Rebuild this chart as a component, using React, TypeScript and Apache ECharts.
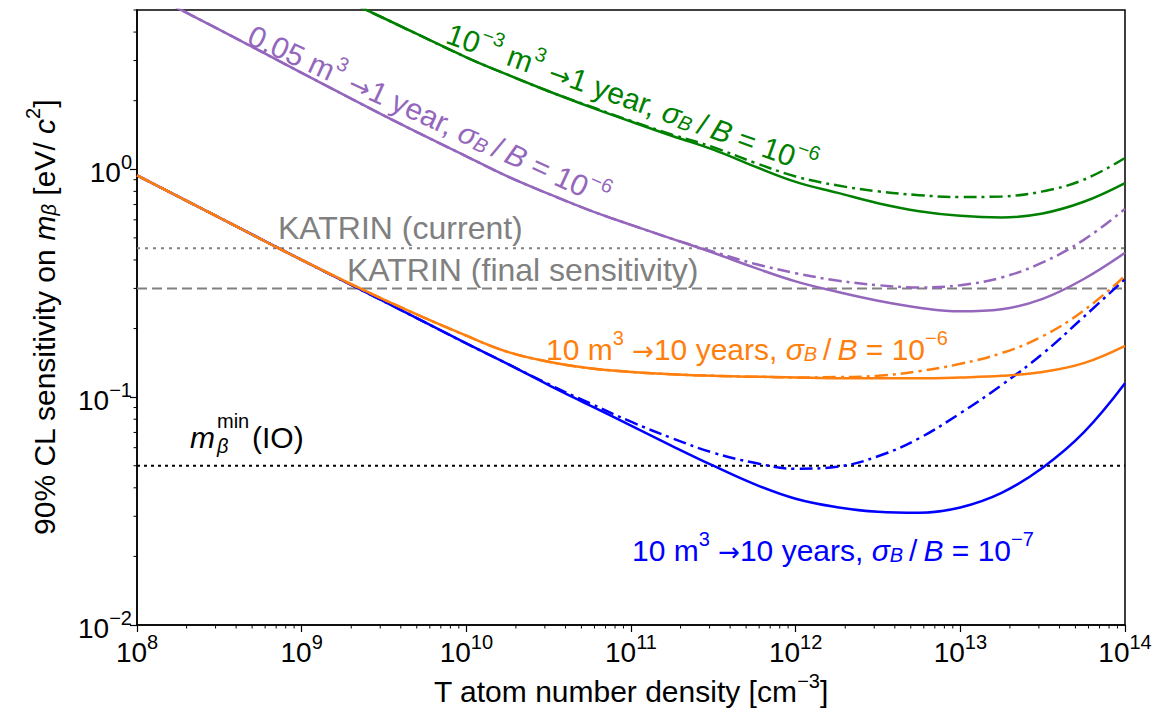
import React, { useEffect, useRef } from 'react';
import * as echarts from 'echarts';

const FONT = "'Liberation Sans', Arial, Helvetica, sans-serif";
const ARROW_FONT = "'DejaVu Sans', 'Liberation Sans', sans-serif";

// T atom number density sampling positions [cm^-3]
const density = [1e8, 3.16e8, 1e9, 3.16e9, 1e10, 1.78e10, 3.16e10, 5.62e10, 1e11, 1.78e11, 3.16e11, 5.62e11, 1e12, 1.78e12, 3.16e12, 5.62e12, 1e13, 1.78e13, 3.16e13, 5.62e13, 1e14];

// 90% CL sensitivity on m_beta [eV/c^2]
const blueSolid = [0.94, 0.614, 0.4, 0.263, 0.172, 0.14, 0.113, 0.092, 0.075, 0.061, 0.05, 0.0415, 0.0358, 0.0329, 0.0314, 0.0311, 0.0328, 0.038, 0.049, 0.07, 0.115];
const blueDashDot = [0.94, 0.614, 0.4, 0.263, 0.172, 0.14, 0.114, 0.094, 0.078, 0.066, 0.057, 0.0515, 0.0485, 0.0495, 0.055, 0.066, 0.085, 0.113, 0.155, 0.225, 0.33];
const orangeSolid = [0.94, 0.614, 0.4, 0.268, 0.186, 0.158, 0.143, 0.134, 0.129, 0.126, 0.124, 0.123, 0.122, 0.121, 0.121, 0.121, 0.122, 0.124, 0.129, 0.141, 0.168];
const orangeDashDot = [0.94, 0.614, 0.4, 0.268, 0.186, 0.158, 0.143, 0.134, 0.129, 0.126, 0.124, 0.123, 0.122, 0.1225, 0.124, 0.13, 0.14, 0.156, 0.185, 0.24, 0.34];
const purpleSolid = [6.3, 4.1, 2.65, 1.72, 1.14, 0.93, 0.78, 0.66, 0.57, 0.495, 0.43, 0.37, 0.322, 0.29, 0.265, 0.247, 0.238, 0.243, 0.27, 0.33, 0.43];
const purpleDashDot = [6.3, 4.1, 2.65, 1.72, 1.14, 0.93, 0.78, 0.66, 0.57, 0.495, 0.435, 0.385, 0.35, 0.325, 0.31, 0.303, 0.31, 0.335, 0.39, 0.49, 0.67];
const greenSolid = [null, null, 6.8, 4.6, 3.1, 2.6, 2.2, 1.88, 1.62, 1.4, 1.22, 1.03, 0.88, 0.79, 0.71, 0.655, 0.625, 0.615, 0.64, 0.72, 0.87];
const greenDashDot = [null, null, 6.8, 4.6, 3.1, 2.6, 2.2, 1.89, 1.63, 1.42, 1.25, 1.07, 0.93, 0.85, 0.8, 0.77, 0.755, 0.76, 0.8, 0.9, 1.12];

// reference levels
const katrinCurrent = 0.45;
const katrinFinal = 0.3;
const mBetaMinIO = 0.05;

const xRange = [1e8, 1e14];
const yRange = [0.01, 5];
const xMajorTicks = [1e8, 1e9, 1e10, 1e11, 1e12, 1e13, 1e14];
const yMajorTicks = [0.01, 0.1, 1];
const minorMantissas = [2, 3, 4, 5, 6, 7, 8, 9];

const BLUE = '#0000ff';
const ORANGE = '#ff7f0e';
const PURPLE = '#9467bd';
const GREEN = '#008000';
const GRAY = '#808080';
const DASHDOT = [13, 5, 3, 5];

function richFor(c: string, size = 30) {
  return {
    n: { fontSize: size, lineHeight: 36, verticalAlign: 'bottom', fill: c, color: c, fontFamily: FONT },
    it: { fontSize: size, lineHeight: 36, verticalAlign: 'bottom', fill: c, color: c, fontFamily: FONT, fontStyle: 'italic' },
    ar: { fontSize: 26, lineHeight: 36, verticalAlign: 'bottom', fill: c, color: c, fontFamily: ARROW_FONT },
    sup: { fontSize: 20, lineHeight: 20, verticalAlign: 'top', fill: c, color: c, fontFamily: FONT },
    sub: { fontSize: 20, lineHeight: 24, verticalAlign: 'bottom', fill: c, color: c, fontFamily: FONT, fontStyle: 'italic' },
  };
}

const sigmaPart = (exp: string) => `{it|σ}{sub|B}{n|\u2009/\u2009}{it|B}{n| = 10}{sup|${exp}}`;

function supExp(v: number) {
  const e = Math.round(Math.log10(v));
  return e < 0 ? '−' + -e : String(e);
}

const tickRich = {
  b: { fontSize: 28, lineHeight: 34, verticalAlign: 'bottom', color: '#000', fontFamily: FONT },
  s: { fontSize: 20, lineHeight: 18, verticalAlign: 'top', color: '#000', fontFamily: FONT },
};

export default function App() {
  const ref = useRef<HTMLDivElement>(null);
  useEffect(() => {
    const chart = echarts.init(ref.current!, null, { renderer: 'svg' });

    const minorData: number[][] = [];
    for (let i = 0; i < xMajorTicks.length - 1; i++) {
      for (const m of minorMantissas) minorData.push([m * xMajorTicks[i], yRange[0], 0]);
    }
    for (const d of yMajorTicks) {
      for (const m of minorMantissas) {
        const v = m * d;
        if (v <= yRange[1] + 1e-9) minorData.push([xRange[0], v, 1]);
      }
    }

    const curve = (data: (number | null)[], color: string, dashed: boolean, z: number) => ({
      type: 'line',
      data: density.map((x, i) => [x, data[i]]),
      showSymbol: false,
      symbol: 'none',
      smooth: 0.4,
      clip: true,
      silent: true,
      z,
      lineStyle: { color, width: 2.5, type: dashed ? DASHDOT : 'solid' },
    });
    const hline = (v: number, color: string, type: any, z: number) => ({
      type: 'line',
      data: [[xRange[0], v], [xRange[1], v]],
      showSymbol: false,
      symbol: 'none',
      silent: true,
      z,
      lineStyle: { color, width: 2, type },
    });

    const txt = (x: number, y: number, text: string, color: string, rot = 0, align = 'left', size = 30) => ({
      type: 'text',
      x,
      y,
      rotation: rot,
      silent: true,
      z: 50,
      style: {
        text,
        rich: richFor(color, size),
        fill: color,
        font: `${size}px ${FONT}`,
        align,
        textAlign: align,
        verticalAlign: 'middle',
        textVerticalAlign: 'middle',
      },
    });

    const option: any = {
      animation: false,
      backgroundColor: '#ffffff',
      textStyle: { fontFamily: FONT },
      grid: {
        left: 137,
        right: 49,
        top: 10,
        bottom: 83,
        show: true,
        borderColor: '#000',
        borderWidth: 1.5,
        backgroundColor: 'transparent',
        containLabel: false,
        outerBoundsMode: 'none',
      },
      xAxis: {
        type: 'log',
        logBase: 10,
        min: xRange[0],
        max: xRange[1],
        name: '{n|T atom number density [cm}{sup|−3}{n|]}',
        nameLocation: 'middle',
        nameGap: 44,
        nameTextStyle: { color: '#000', fontFamily: FONT, fontSize: 30, rich: richFor('#000') },
        axisLine: { show: true, lineStyle: { color: '#000', width: 1.5 } },
        axisTick: { show: true, inside: false, length: 7, customValues: xMajorTicks, lineStyle: { color: '#000', width: 1.2 } },
        axisLabel: {
          show: true,
          margin: 7,
          customValues: xMajorTicks,
          formatter: (v: number) => `{b|10}{s|${supExp(v)}}`,
          rich: tickRich,
        },
        splitLine: { show: false },
        minorTick: { show: false },
        minorSplitLine: { show: false },
      },
      yAxis: {
        type: 'log',
        logBase: 10,
        min: yRange[0],
        max: yRange[1],
        name: '{n|90% CL sensitivity on }{it|m}{sub|β}{n| [eV/ }{it|c}{sup|2}{n|]}',
        nameLocation: 'middle',
        nameRotate: 90,
        nameGap: 78,
        nameTextStyle: { color: '#000', fontFamily: FONT, fontSize: 30, rich: richFor('#000') },
        axisLine: { show: true, lineStyle: { color: '#000', width: 1.5 } },
        axisTick: { show: true, inside: false, length: 7, customValues: yMajorTicks, lineStyle: { color: '#000', width: 1.2 } },
        axisLabel: {
          show: true,
          margin: 5,
          customValues: yMajorTicks,
          formatter: (v: number) => `{b|10}{s|${supExp(v)}}`,
          rich: tickRich,
        },
        splitLine: { show: false },
        minorTick: { show: false },
        minorSplitLine: { show: false },
      },
      series: [
        hline(katrinCurrent, GRAY, [3, 5], 1),
        hline(katrinFinal, GRAY, [10, 5], 1),
        hline(mBetaMinIO, '#000', [3, 4], 1),
        curve(blueSolid, BLUE, false, 2),
        curve(blueDashDot, BLUE, true, 2),
        curve(orangeSolid, ORANGE, false, 3),
        curve(orangeDashDot, ORANGE, true, 3),
        curve(purpleSolid, PURPLE, false, 4),
        curve(purpleDashDot, PURPLE, true, 4),
        curve(greenSolid, GREEN, false, 5),
        curve(greenDashDot, GREEN, true, 5),
        {
          type: 'custom',
          coordinateSystem: 'cartesian2d',
          silent: true,
          clip: false,
          z: 20,
          data: minorData,
          renderItem: (params: any, api: any) => {
            const p = api.coord([api.value(0), api.value(1)]);
            const horiz = api.value(2) === 1;
            return {
              type: 'line',
              shape: horiz
                ? { x1: p[0] - 3.5, y1: p[1], x2: p[0], y2: p[1] }
                : { x1: p[0], y1: p[1], x2: p[0], y2: p[1] + 3.5 },
              style: { stroke: '#000', lineWidth: 1 },
            };
          },
        },
      ],
      graphic: [
        txt(633, 96, `{n|10}{sup|−3}{n| m}{sup|3}{n| }{ar|→}{n|1 year, }${sigmaPart('−6')}`, GREEN, -0.345, 'center'),
        txt(430, 113, `{n|0.05 m}{sup|3}{n| }{ar|→}{n|1 year, }${sigmaPart('−6')}`, PURPLE, -0.43, 'center'),
        txt(278, 226, '{n|KATRIN (current)}', GRAY, 0, 'left', 32),
        txt(347, 268, '{n|KATRIN (final sensitivity)}', GRAY, 0, 'left', 32),
        txt(546, 346, `{n|10 m}{sup|3}{n| }{ar|→}{n|10 years, }${sigmaPart('−6')}`, ORANGE),
        txt(632, 547, `{n|10 m}{sup|3}{n| }{ar|→}{n|10 years, }${sigmaPart('−7')}`, BLUE),
        {
          type: 'text', x: 190, y: 437, silent: true, z: 50,
          style: { text: 'm', fill: '#000', font: `italic 30px ${FONT}`, align: 'left', textAlign: 'left', verticalAlign: 'middle', textVerticalAlign: 'middle' },
        },
        {
          type: 'text', x: 217, y: 421, silent: true, z: 50,
          style: { text: 'min', fill: '#000', font: `20px ${FONT}`, align: 'left', textAlign: 'left', verticalAlign: 'middle', textVerticalAlign: 'middle' },
        },
        {
          type: 'text', x: 217, y: 446, silent: true, z: 50,
          style: { text: 'β', fill: '#000', font: `italic 20px ${FONT}`, align: 'left', textAlign: 'left', verticalAlign: 'middle', textVerticalAlign: 'middle' },
        },
        {
          type: 'text', x: 252, y: 437, silent: true, z: 50,
          style: { text: '(IO)', fill: '#000', font: `30px ${FONT}`, align: 'left', textAlign: 'left', verticalAlign: 'middle', textVerticalAlign: 'middle' },
        },
      ],
    };

    chart.setOption(option);
    return () => chart.dispose();
  }, []);

  return (
    <div
      ref={ref}
      style={{ position: 'absolute', left: 0, top: 0, width: 1174, height: 708, background: '#fff' }}
    />
  );
}
